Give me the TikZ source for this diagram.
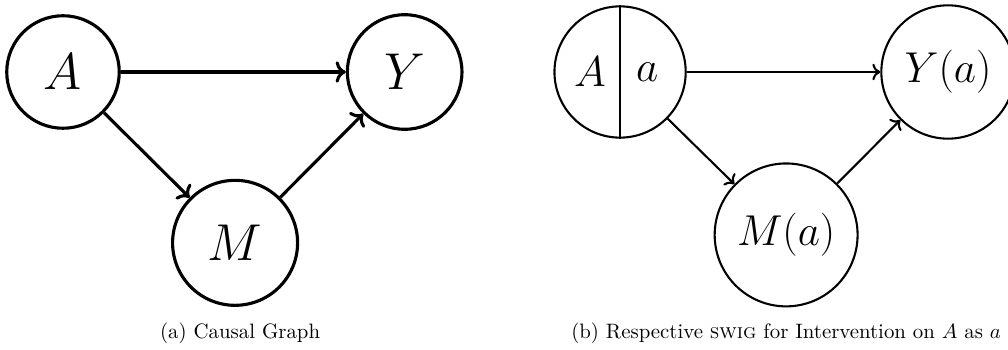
\documentclass[tikz,border=0pt]{standalone}
\usepackage{amsmath}
\usepackage{tikz}
\usetikzlibrary{positioning, arrows.meta}

\begin{document}
\begin{tikzpicture}[on grid,
    vc/.style={circle, draw, line width=1.5pt, inner sep=1pt, minimum size=54pt, font=\fontsize{27pt}{32pt}\selectfont},
    sw/.style={circle, draw, line width=1pt, inner sep=2pt, minimum size=63pt, font=\huge},
    a/.style={->, line width=1.5pt},
    b/.style={->, line width=1pt}]
\useasboundingbox (-30.24pt,34.56pt) rectangle (453.6pt,-133.44pt);
\node[vc] (A) {$A$};
\node[vc, minimum size=55pt, right=164pt of A] (Y) {$Y$};
\node[vc, minimum size=60pt, below right=82pt and 82.6pt of A] (M) {$M$};
\node[below=43.2pt of M, xshift=2.4pt] (capa) {(a) Causal Graph};
\draw[a] (A) -- (Y);
\draw[a] (A) -- (M);
\draw[a] (M) -- (Y);
\node[sw, right=267.4pt of A] (Aa) {};
\draw[line width=1pt] (Aa.north) -- (Aa.south);
\node[font=\huge] (Aal) at ([xshift=-14.4pt]Aa.center) {$A$};
\node[font=\huge] (Aar) at ([xshift=13pt]Aa.center) {$a$};
\node[sw, minimum size=64pt, right=157.4pt of Aa] (Ya) {$Y(a)$};
\node[sw, minimum size=68.6pt, below right=78.2pt and 79.7pt of Aa] (Ma) {$M(a)$};
\node[below=47pt of Ma] (capb) {(b) Respective \textsc{swig} for Intervention on $A$ as $a$};
\draw[b] (Aa) -- (Ya);
\draw[b] (Aa) -- (Ma);
\draw[b] (Ma) -- (Ya);
\end{tikzpicture}
\end{document}
